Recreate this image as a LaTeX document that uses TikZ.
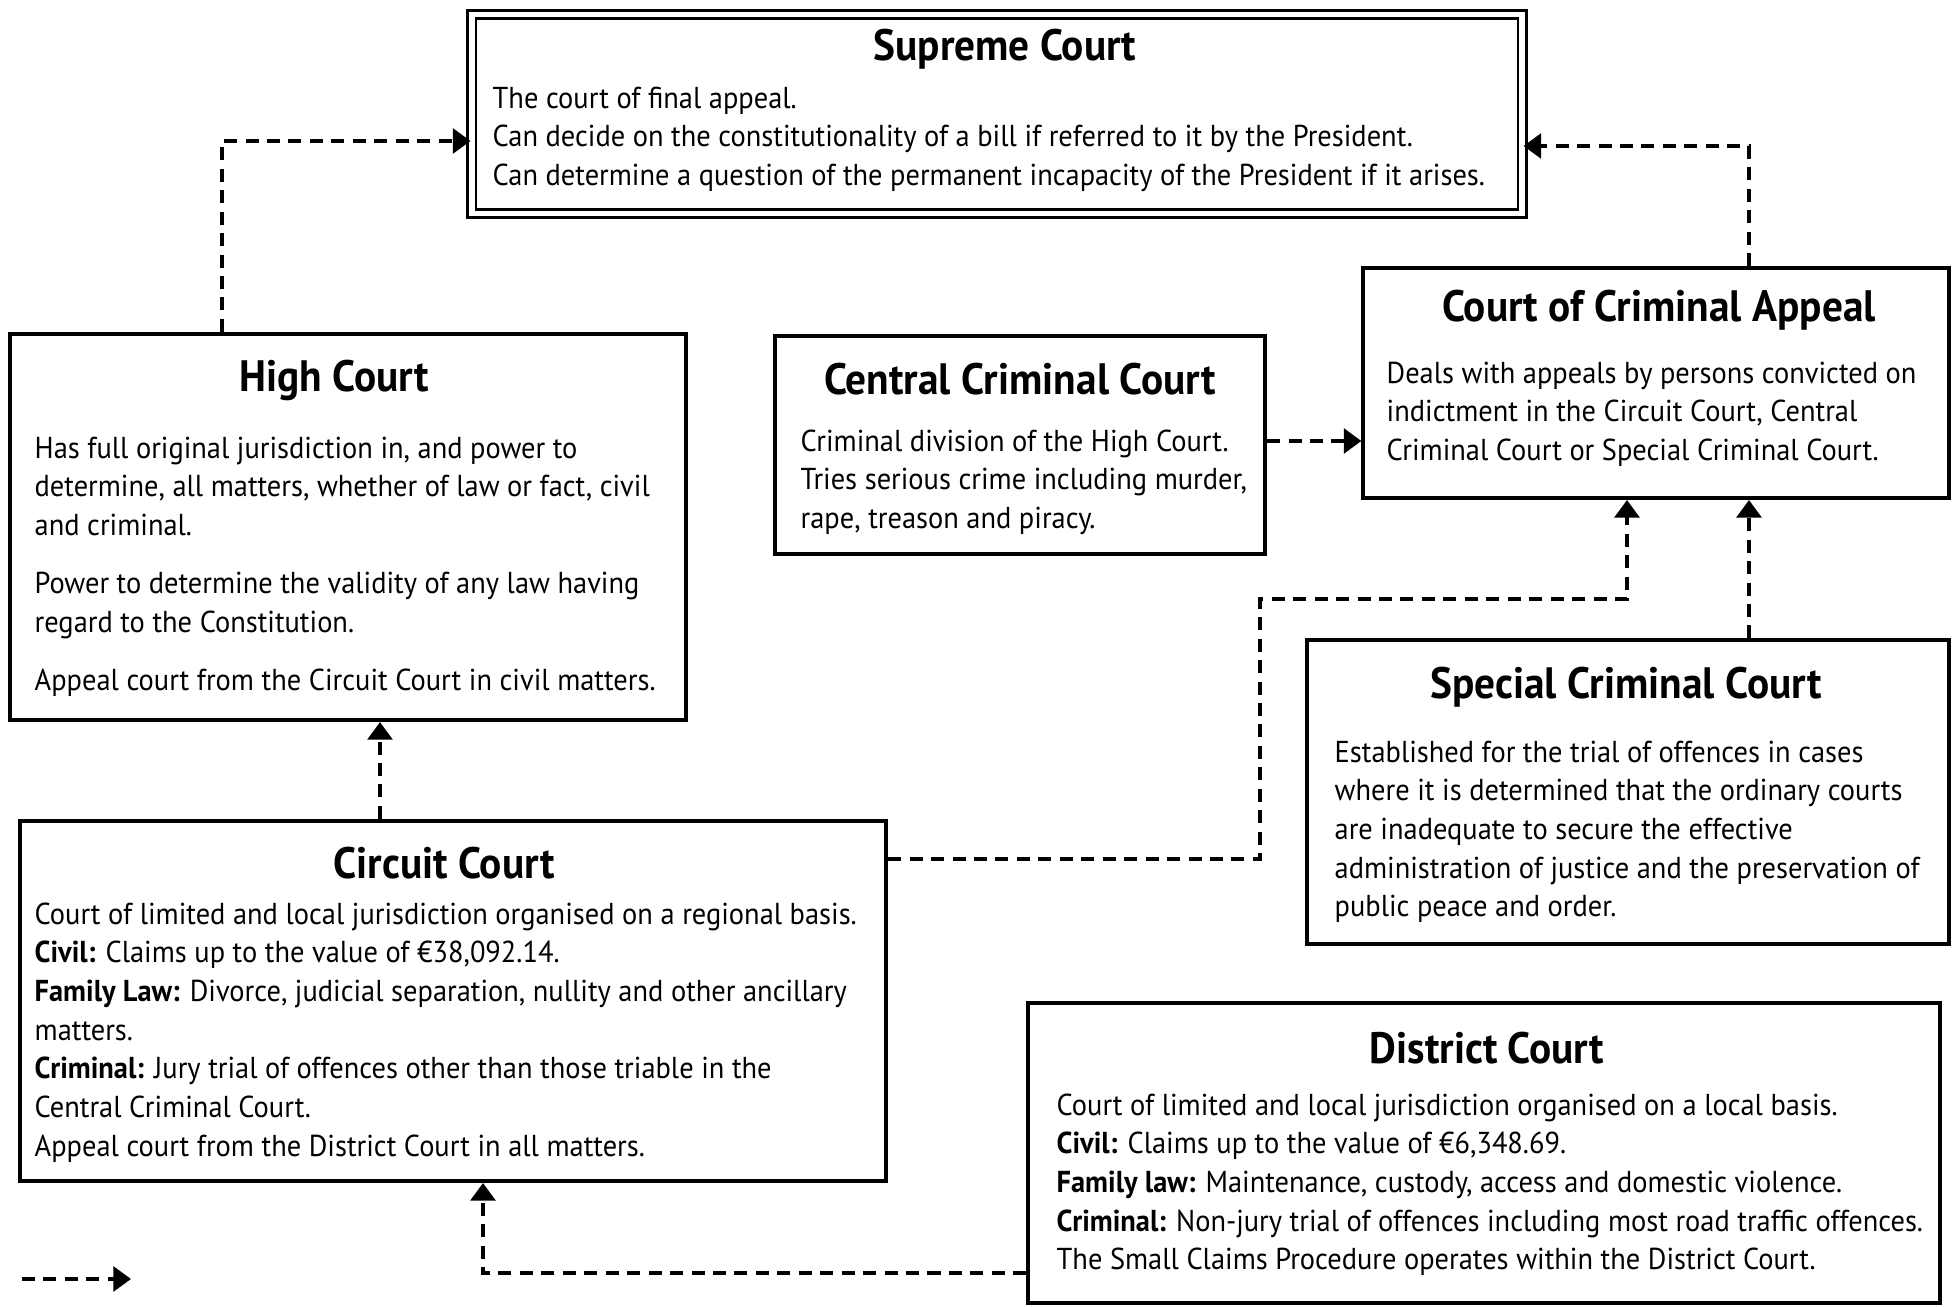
\documentclass[tikz,border=0pt]{standalone}
\usepackage{fontspec}
\setmainfont{PT Sans}[FakeStretch=0.94]
\usetikzlibrary{arrows.meta}

\tikzset{
  court/.style={draw, line width=1.1pt, inner sep=0pt},
  supremebox/.style={draw, line width=0.7pt, double, double distance=1.6pt, inner sep=0pt},
  title/.style={font=\fontsize{12.5}{15}\selectfont\bfseries, inner sep=0pt},
  body/.style={font=\fontsize{8.6}{11}\selectfont, align=left, anchor=north west, inner sep=0pt},
  link/.style={line width=1.1pt, dash pattern=on 3.7pt off 2.4pt, -{Triangle[length=5pt,width=7pt]}}
}

\begin{document}
\begin{tikzpicture}[x=0.01cm, y=-0.01cm]
\useasboundingbox (0,0) rectangle (1953,1307);

% boxes
\node[supremebox, minimum width=10.5cm, minimum height=1.99cm] (supreme) at (997,114) {};
\node[court, minimum width=6.76cm, minimum height=3.86cm] (high) at (348,527) {};
\node[court, minimum width=4.90cm, minimum height=2.18cm] (central) at (1020,445) {};
\node[court, minimum width=5.85cm, minimum height=2.30cm] (cca) at (1656,383) {};
\node[court, minimum width=6.41cm, minimum height=3.03cm] (special) at (1628,792) {};
\node[court, minimum width=8.66cm, minimum height=3.60cm] (circuit) at (453,1001) {};
\node[court, minimum width=9.11cm, minimum height=2.99cm] (district) at (1484,1153) {};

% titles
\node[title] (supremeT) at (1005,49) {Supreme Court};
\node[title] (highT) at (334,380) {High Court};
\node[title] (centralT) at (1020,379) {Central Criminal Court};
\node[title] (ccaT) at (1659,310) {Court of Criminal Appeal};
\node[title] (specialT) at (1626,687) {Special Criminal Court};
\node[title] (circuitT) at (444,863) {Circuit Court};
\node[title] (districtT) at (1487,1048) {District Court};

% texts
\node[body] (supremeB) at (492,86) {The court of final appeal.\\
Can decide on the constitutionality of a bill if referred to it by the President.\\
Can determine a question of the permanent incapacity of the President if it arises.};
\node[body] (highB) at (34,436) {Has full original jurisdiction in, and power to\\
determine, all matters, whether of law or fact, civil\\
and criminal.\\[5.5pt]
Power to determine the validity of any law having\\
regard to the Constitution.\\[5.5pt]
Appeal court from the Circuit Court in civil matters.};
\node[body] (centralB) at (800,429) {Criminal division of the High Court.\\
Tries serious crime including murder,\\
rape, treason and piracy.};
\node[body] (ccaB) at (1386,361) {Deals with appeals by persons convicted on\\
indictment in the Circuit Court, Central\\
Criminal Court or Special Criminal Court.};
\node[body] (specialB) at (1334,740) {Established for the trial of offences in cases\\
where it is determined that the ordinary courts\\
are inadequate to secure the effective\\
administration of justice and the preservation of\\
public peace and order.};
\node[body] (circuitB) at (34,902) {Court of limited and local jurisdiction organised on a regional basis.\\
\textbf{Civil:} Claims up to the value of €38,092.14.\\
\textbf{Family Law:} Divorce, judicial separation, nullity and other ancillary\\
matters.\\
\textbf{Criminal:} Jury trial of offences other than those triable in the\\
Central Criminal Court.\\
Appeal court from the District Court in all matters.};
\node[body] (districtB) at (1056,1093) {Court of limited and local jurisdiction organised on a local basis.\\
\textbf{Civil:} Claims up to the value of €6,348.69.\\
\textbf{Family law:} Maintenance, custody, access and domestic violence.\\
\textbf{Criminal:} Non-jury trial of offences including most road traffic offences.\\
The Small Claims Procedure operates within the District Court.};

% bends
\coordinate (hs) at (222,141);
\coordinate (cs) at (1749,146);
\coordinate (ch) at (380,0);
\coordinate (cc1) at (1260,859);
\coordinate (cc2) at (1260,599);
\coordinate (cc3) at (1627,599);
\coordinate (dc) at (483,1273);
\coordinate (legA) at (22,1279);
\coordinate (legB) at (131,1279);

% connectors
\draw[link] (high.north -| hs) |- (supreme.west |- hs);
\draw[link] (cca.north -| cs) |- (supreme.east |- cs);
\draw[link] (central.east |- 0,441) -- (cca.west |- 0,441);
\draw[link] (circuit.east |- cc1) -- (cc1) -- (cc2) -- (cc3) -- (cc3 |- cca.south);
\draw[link] (special.north -| cs) -- (cca.south -| cs);
\draw[link] (circuit.north -| ch) -- (high.south -| ch);
\draw[link] (district.west |- dc) -| (circuit.south -| dc);
\draw[link] (legA) -- (legB);
\end{tikzpicture}
\end{document}
